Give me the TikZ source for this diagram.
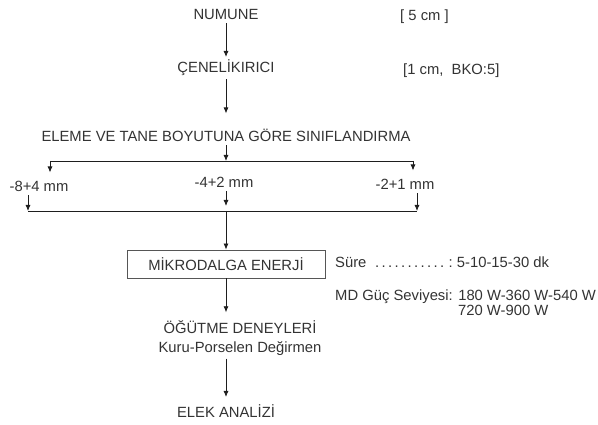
\documentclass[tikz,border=0pt]{standalone}
\usepackage{fontspec}
\setmainfont{Liberation Sans}
\usetikzlibrary{arrows.meta}
\definecolor{ink}{HTML}{333333}
\definecolor{wire}{HTML}{1E1E1E}
\newlength{\powerw}

\begin{document}
\begin{tikzpicture}[
  x=1pt, y=-1pt,
  font=\fontsize{14.8}{19}\selectfont,
  text=ink,
  term/.style={anchor=base, inner sep=3pt},
  note/.style={anchor=base west, inner sep=0pt},
  box/.style={
    draw=wire!75,
    line width=0.8pt,
    minimum width=198pt,
    minimum height=28pt,
    inner sep=3pt
  },
  arrow/.style={-{Latex[length=6pt,width=5pt]}, line width=0.8pt, draw=wire},
  bus/.style={line width=0.8pt, draw=wire}
]
\useasboundingbox (0,0) rectangle (598,425);

% main chain
\node[term] (sample) at (226,20) {NUMUNE};
\node[term] (crusher) at (226,73) {ÇENELİKIRICI};
\node[term] (sieve) at (226,142) {ELEME VE TANE BOYUTUNA GÖRE SINIFLANDIRMA};

\node[note] (sizeA) at (400,21) {[ 5 cm ]};
\node[note] (sizeB) at (403,75) {[1 cm,\ \ BKO:5]};

% size fractions
\node[term] (coarse) at (39,192) {-8+4 mm};
\node[term] (medium) at (224,188) {-4+2 mm};
\node[term] (fine) at (405,190) {-2+1 mm};

\coordinate (split) at (226,161);
\coordinate (busL) at (50,161);
\coordinate (busR) at (413,161);
\coordinate (joinL) at (28,211);
\coordinate (joinM) at (226,211);
\coordinate (joinR) at (417,211);

\node[box] (micro) at (226,264) {MİKRODALGA ENERJİ};
\node[term, anchor=center, align=center] (grind) at (240,338) {ÖĞÜTME DENEYLERİ\\Kuru-Porselen Değirmen};
\node[term] (report) at (226,417) {ELEK ANALİZİ};

% conditions
\node[note] (time) at (335,268) {\settowidth{\powerw}{MD Güç Seviyesi:}\makebox[\powerw][l]{Süre \dotfill:} 5-10-15-30 dk};
\node[note] (power) at (335,301) {MD Güç Seviyesi: 180 W-360 W-540 W};
\node[note] (powerB) at (458,316) {720 W-900 W};

\draw[arrow] (sample.south) -- (crusher.north);
\draw[arrow, shorten >=13pt] (crusher.south) -- (crusher.south |- sieve.north);
\draw[arrow] (sieve.south) -- (split);
\draw[bus] (busL) -- (busR);
\draw[arrow, shorten >=6pt] (busL) -- (busL |- coarse.north);
\draw[arrow, shorten >=6pt] (busR) -- (busR |- fine.north);

\draw[arrow] (joinL |- coarse.south) -- (joinL);
\draw[arrow, shorten >=5pt] (joinM |- medium.south) -- (joinM);
\draw[arrow] (joinR |- fine.south) -- (joinR);
\draw[bus] (joinL) -- (joinR);
\draw[arrow] (joinM) -- (micro.north);

\draw[arrow, shorten >=5pt] (micro.south) -- (micro.south |- grind.north);
\draw[arrow, shorten >=4pt] (micro.south |- grind.south) -- (report.north);

\end{tikzpicture}
\end{document}
